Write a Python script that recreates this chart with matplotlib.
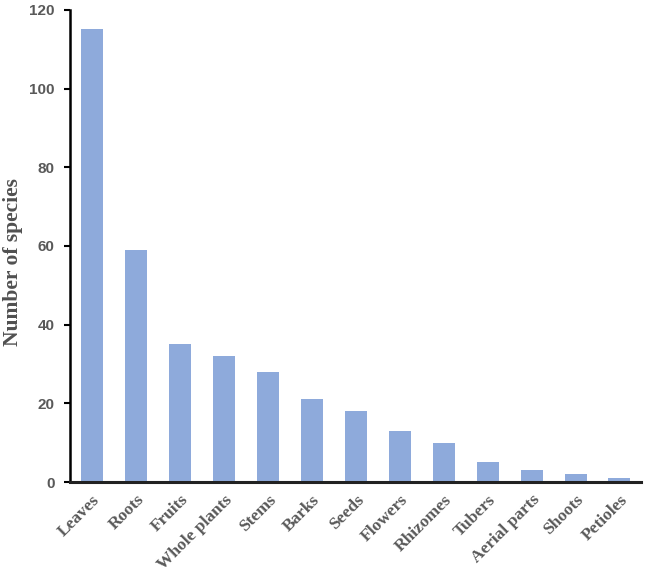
import matplotlib
matplotlib.use("Agg")
import matplotlib.pyplot as plt

categories = ["Leaves", "Roots", "Fruits", "Whole plants", "Stems", "Barks", "Seeds",
              "Flowers", "Rhizomes", "Tubers", "Aerial parts", "Shoots", "Petioles"]
values = [115, 59, 35, 32, 28, 21, 18, 13, 10, 5, 3, 2, 1]
yticks = [0, 20, 40, 60, 80, 100, 120]

fig = plt.figure(figsize=(6.45, 5.76), dpi=100)
ax = fig.add_axes([0.1085, 0.163, 0.886, 0.82])

ax.bar(range(len(categories)), values, width=0.5, color="#8eaadb", zorder=2)
ax.set_xlim(-0.5, len(categories) - 0.5)
ax.set_ylim(0, 120)
ax.set_yticks(yticks)
ax.set_yticklabels([str(t) for t in yticks], fontfamily="Liberation Sans",
                   fontweight="bold", fontsize=11, color="#595959")
ax.set_xticks(range(len(categories)))
ax.set_xticklabels(categories, rotation=45, ha="right", rotation_mode="anchor",
                   fontfamily="Liberation Serif", fontweight="bold", fontsize=12.5,
                   color="#595959")
ax.tick_params(axis="x", length=0, pad=7)
ax.tick_params(axis="y", length=4, width=1.5, color="black", pad=7)

for s in ["top", "right"]:
    ax.spines[s].set_visible(False)
ax.spines["left"].set_linewidth(1.8)
ax.spines["bottom"].set_linewidth(2.2)
ax.spines["left"].set_color("black")
ax.spines["bottom"].set_color("#222222")

ax.set_ylabel("Number of species", fontfamily="Liberation Serif", fontweight="bold",
              fontsize=15.5, color="#505050")
ax.yaxis.set_label_coords(-0.082, 0.465)

fig.savefig("out.png", dpi=100)
